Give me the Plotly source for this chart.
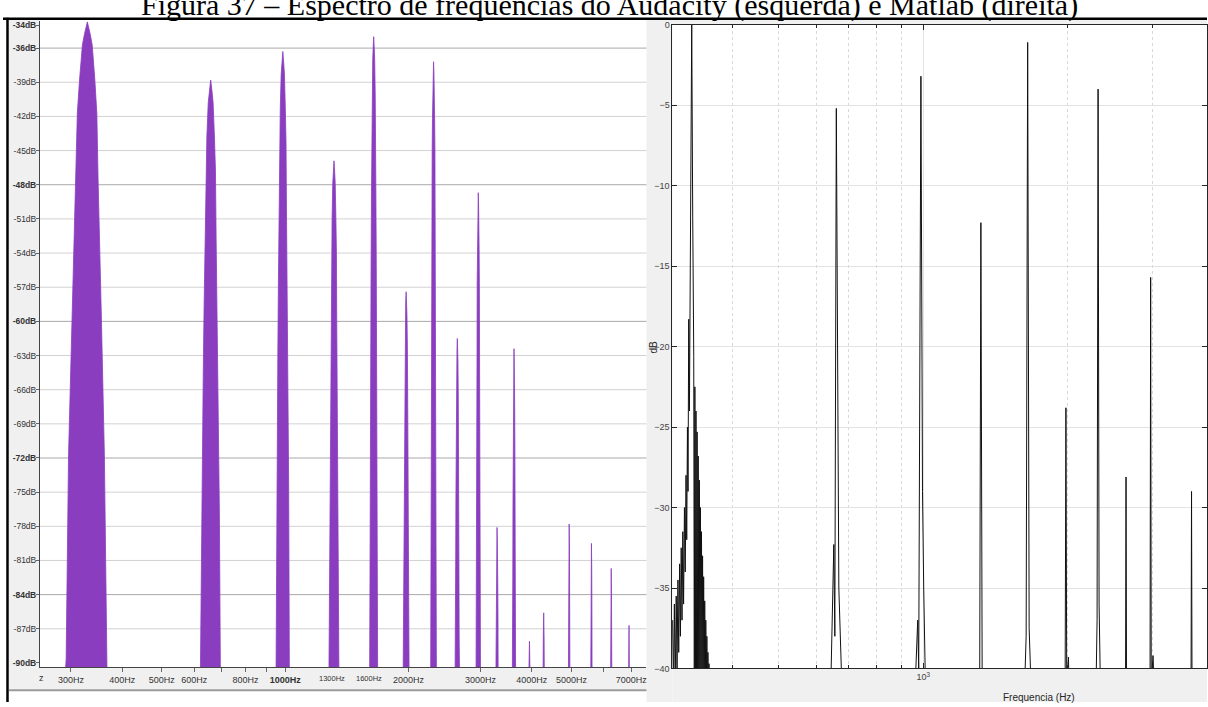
import math
import plotly.graph_objects as go

W, H = 1208, 707

# ---------------- Audacity spectrum (left) ----------------
aud_peak_hz = [329, 658, 987, 1316, 1645, 1974, 2303, 2632, 2961, 3290, 3619,
               3948, 4277, 4935, 5593, 6251, 6909]
aud_peak_db = [-33.7, -38.8, -36.3, -45.9, -35.0, -57.4, -37.2, -61.5, -48.7,
               -78.1, -62.4, -88.1, -85.6, -77.8, -79.5, -81.7, -86.7]
# lobe profile read from the widest peak: dB below the tip -> half width (Hz)
lobe_drop_db = [0, 1, 2, 5, 8, 14, 20, 26, 38, 56, 62]
lobe_half_hz = [0, 5, 9, 14, 18, 20.5, 24, 27, 33, 37, 38.5]

aud_y_ticks = [-34, -36, -39, -42, -45, -48, -51, -54, -57, -60, -63, -66, -69,
               -72, -75, -78, -81, -84, -87, -90]
aud_y_bold = [-34, -36, -48, -60, -72, -84, -90]
aud_y_grid = [-36, -39, -42, -45, -48, -51, -54, -57, -60, -63, -66, -69,
              -72, -75, -78, -81, -84, -87]
aud_dark_grid_db = [-36, -48, -60, -72, -84]
aud_x_grid = [300, 400, 500, 600, 700, 800, 900, 1000, 2000, 3000, 4000, 5000,
              6000, 7000]
aud_x_labels = ["300Hz", "400Hz", "500Hz", "600Hz", "", "800Hz", "", "<b>1000Hz</b>",
                "2000Hz", "3000Hz", "4000Hz", "5000Hz", "", "7000Hz"]
aud_dark_grid_hz = [1000]
aud_x_small_labels = [1300, 1600]

# ---------------- Matlab spectrum (right) ----------------
mat_freq = [298.5, 300.2, 301.4, 302.8, 304.0, 305.5, 306.7, 308.0, 309.2, 310.5,
            311.7, 312.9, 314.1, 315.3, 316.5, 317.8, 319.0, 320.2, 321.3, 322.4,
            323.3, 324.4, 325.5, 326.7, 329.1, 330.7,
            332.3, 333.2, 334.1, 335.0, 335.9, 336.8, 337.7, 338.6, 339.5, 340.4,
            341.3, 342.2, 343.1, 344.0, 344.9, 345.8, 346.7, 347.6, 348.5, 349.4,
            350.3, 351.2, 352.1, 353.0, 353.9, 354.8, 355.7, 356.6, 357.5, 358.4,
            359.3, 360.2,
            641.7, 651.0, 654.2, 658.9, 663.7, 666.9, 676.5,
            962.4, 974.0, 978.6, 989.0, 996.6, 1002.4, 1010.6,
            1311.4, 1319.0, 1327.3,
            1627.5, 1639.2, 1651.1, 1663.0, 1677.4,
            1976.5, 1984.1, 1991.7, 2008.0, 2014.8,
            2293.2, 2304.2, 2315.3, 2326.4, 2341.0,
            2641.4, 2647.8, 2654.1,
            2971.4, 2979.9, 2988.5, 3014.4, 3028.9,
            3617.5, 3626.2, 3634.9]
mat_db = [-41, -37, -41, -36, -41, -35.5, -40, -34.5, -39, -33.5,
          -38, -32.5, -37, -31.5, -36, -30, -34, -28, -32, -25,
          -29, -18.3, -24, -12, 0, -12,
          -20.6, -41, -22.5, -41, -24, -41, -25.3, -41, -26.8, -41,
          -28.3, -41, -30, -41, -31.5, -41, -33, -41, -34.3, -41,
          -35.8, -41, -37, -41, -38, -41, -39, -41, -39.7, -41,
          -40.3, -41,
          -41, -32.3, -38, -5.2, -29.7, -35, -41,
          -41, -37, -40, -3.2, -29, -35, -41,
          -41, -12.3, -41,
          -41, -38, -1.1, -37.5, -41,
          -41, -23.8, -41, -39.3, -41,
          -41, -37, -4.0, -36, -41,
          -41, -28.1, -41,
          -41, -15.7, -41, -39.2, -41,
          -41, -29.0, -41]
mat_y_ticks = [0, -5, -10, -15, -20, -25, -30, -35, -40]
mat_major_hz = [1000]
mat_major_labels = ["10<sup>3</sup>"]
mat_minor_hz = [400, 500, 600, 700, 800, 900, 2000, 3000]

TITLE = "Figura 37 – Espectro de frequências do Audacity (esquerda) e Matlab (direita)"
PURPLE = "#8a3dbf"


def px(x):
    return x / W


def py(y):
    return 1 - y / H


# build filled lobes for the Audacity peaks
FLOOR = -91.0
ax_x, ax_y = [], []
for fc, tip in zip(aud_peak_hz, aud_peak_db):
    left, right = [], []
    for d, hw in zip(lobe_drop_db, lobe_half_hz):
        lvl = tip - d
        if lvl <= FLOOR:
            left.append((fc - hw, FLOOR))
            right.append((fc + hw, FLOOR))
            break
        left.append((fc - hw, lvl))
        right.append((fc + hw, lvl))
    pts = list(reversed(left)) + right[1:]
    ax_x += [p[0] for p in pts] + [None]
    ax_y += [p[1] for p in pts] + [None]

fig = go.Figure()
fig.add_trace(go.Scatter(x=ax_x, y=ax_y, mode="lines", fill="toself",
                         fillcolor=PURPLE, line=dict(color=PURPLE, width=0.8),
                         xaxis="x", yaxis="y", hoverinfo="skip", showlegend=False))
fig.add_trace(go.Scatter(x=mat_freq, y=mat_db, mode="lines",
                         line=dict(color="#111111", width=1),
                         xaxis="x2", yaxis="y2", hoverinfo="skip", showlegend=False))

lab_font = dict(family="Liberation Sans, Arial, sans-serif", size=9, color="#333333")
ylab_font = dict(family="Liberation Sans, Arial, sans-serif", size=8.5, color="#333333")
mat_font = dict(family="Liberation Sans, Arial, sans-serif", size=9, color="#444444")

aud_y_text = [("<b>%ddB</b>" % v) if v in aud_y_bold else ("%ddB" % v) for v in aud_y_ticks]

# pixel geometry
L_X0, L_X1, L_Y0, L_Y1 = 40, 647, 16, 672
R_X0, R_X1, R_Y0, R_Y1 = 673, 1208, 20, 673

fig.update_layout(
    width=W, height=H, margin=dict(l=0, r=0, t=0, b=0),
    paper_bgcolor="white", plot_bgcolor="white", showlegend=False,
    xaxis=dict(type="log", domain=[px(L_X0), px(L_X1)],
               range=[math.log10(300) - 31 / 410, math.log10(300) + 576 / 410],
               tickmode="array", tickvals=aud_x_grid, ticktext=aud_x_labels,
               showgrid=False,
               ticks="outside", ticklen=4, tickcolor="#666666",
               showline=True, linecolor="#444444", linewidth=1,
               tickfont=lab_font, zeroline=False, anchor="y", fixedrange=True),
    yaxis=dict(domain=[py(L_Y1), py(L_Y0)], range=[-90.4, -33.6],
               tickmode="array", tickvals=aud_y_ticks, ticktext=aud_y_text,
               showgrid=False, ticklabelstandoff=-2,
               ticks="outside", ticklen=3, tickcolor="#666666",
               showline=True, linecolor="#444444", linewidth=1,
               tickfont=ylab_font, zeroline=False, anchor="x", fixedrange=True),
    xaxis2=dict(type="log", domain=[px(R_X0), 1.0],
                range=[math.log10(300), math.log10(300) + (R_X1 - R_X0) / 480],
                tickmode="array", tickvals=mat_major_hz, ticktext=mat_major_labels,
                showgrid=True, gridcolor="#e3e3e3", gridwidth=1,
                ticks="inside", ticklen=5, tickcolor="#262626",
                minor=dict(tickmode="array", tickvals=mat_minor_hz, ticks="inside",
                           ticklen=3, tickcolor="#262626", showgrid=True,
                           gridcolor="#d8d8d8", griddash="dot", gridwidth=1),
                showline=True, linecolor="#262626", linewidth=1, mirror="ticks",
                tickfont=mat_font, zeroline=False, anchor="y2", fixedrange=True),
    yaxis2=dict(domain=[py(R_Y1), py(R_Y0)], range=[-40, 0],
                tickmode="array", tickvals=mat_y_ticks,
                showgrid=True, gridcolor="#e3e3e3", gridwidth=1,
                ticks="inside", ticklen=5, tickcolor="#262626",
                showline=True, linecolor="#262626", linewidth=1, mirror="ticks",
                tickfont=mat_font, zeroline=False, anchor="x2", fixedrange=True),
)

GRAY = "#f0f0f0"
shapes = []


def rect(x0, y0, x1, y1, color):
    shapes.append(dict(type="rect", xref="paper", yref="paper",
                       x0=px(x0), x1=px(x1), y0=py(y1), y1=py(y0),
                       fillcolor=color, line=dict(width=0), layer="below"))


rect(9, 15, L_X0, L_Y1, GRAY)           # left label strip
rect(9, L_Y1, L_X1, 694, GRAY)          # left bottom strip
rect(L_X1, 15, R_X0, H, GRAY)           # right panel left strip
rect(R_X0, R_Y1, W, H, GRAY)            # right panel bottom strip
rect(R_X0, 15, W, R_Y0, GRAY)           # right panel top strip

# Audacity grid lines (light, with darker major ones drawn last)
for v in aud_y_grid:
    if v not in aud_dark_grid_db:
        shapes.append(dict(type="line", xref="x domain", yref="y", x0=0, x1=1,
                           y0=v, y1=v, line=dict(color="#d2d2d2", width=1),
                           layer="below"))
for f in aud_x_grid:
    if f not in aud_dark_grid_hz:
        shapes.append(dict(type="line", xref="x", yref="y domain",
                           x0=math.log10(f), x1=math.log10(f), y0=0, y1=1,
                           line=dict(color="#d2d2d2", width=1), layer="below"))
for v in aud_dark_grid_db:
    shapes.append(dict(type="line", xref="x domain", yref="y", x0=0, x1=1, y0=v, y1=v,
                       line=dict(color="#a9a9a9", width=1), layer="below"))
for f in aud_dark_grid_hz:
    shapes.append(dict(type="line", xref="x", yref="y domain",
                       x0=math.log10(f), x1=math.log10(f), y0=0, y1=1,
                       line=dict(color="#a9a9a9", width=1), layer="below"))

# frame lines
shapes.append(dict(type="line", xref="paper", yref="paper", x0=px(9), x1=px(L_X1),
                   y0=py(695), y1=py(695), line=dict(color="#9a9a9a", width=2)))
shapes.append(dict(type="line", xref="paper", yref="paper", x0=px(3), x1=1,
                   y0=py(14), y1=py(14), line=dict(color="#000000", width=2.5)))
shapes.append(dict(type="line", xref="paper", yref="paper", x0=px(7.5), x1=px(7.5),
                   y0=py(13), y1=0, line=dict(color="#000000", width=2.5)))
fig.update_layout(shapes=shapes)

ann = []
ann.append(dict(text=TITLE, xref="paper", yref="paper", x=px(610), y=py(19),
                xanchor="center", yanchor="bottom", showarrow=False,
                font=dict(family="Liberation Serif, Times New Roman, serif",
                          size=30, color="#000000")))
ann.append(dict(text="z", xref="paper", yref="paper", x=px(42), y=py(683),
                xanchor="center", yanchor="middle", showarrow=False, font=lab_font))
for f in aud_x_small_labels:
    ann.append(dict(text="%dHz" % f, xref="x", yref="paper", x=math.log10(f), y=py(683),
                    xanchor="center", yanchor="middle", showarrow=False,
                    font=dict(family="Liberation Sans, Arial, sans-serif", size=7.5,
                              color="#333333")))
ann.append(dict(text="dB", xref="paper", yref="paper", x=px(654), y=py(347),
                xanchor="center", yanchor="middle", showarrow=False, textangle=-90,
                font=dict(family="Liberation Sans, Arial, sans-serif", size=10,
                          color="#262626")))
ann.append(dict(text="Frequencia (Hz)", xref="paper", yref="paper", x=px(1040), y=py(702),
                xanchor="center", yanchor="middle", showarrow=False,
                font=dict(family="Liberation Sans, Arial, sans-serif", size=10,
                          color="#262626")))
fig.update_layout(annotations=ann)

fig.write_html("out.html")
